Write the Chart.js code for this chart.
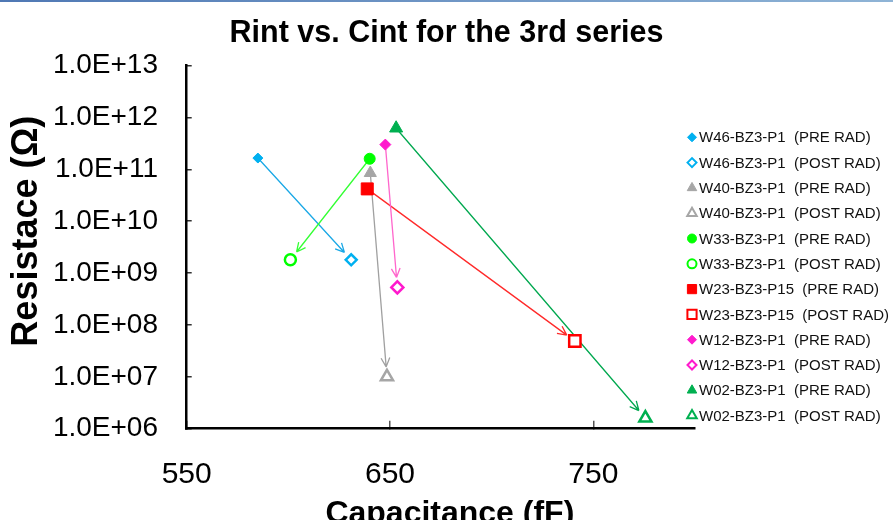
<!DOCTYPE html>
<html>
<head>
<meta charset="utf-8">
<title>Rint vs. Cint for the 3rd series</title>
<script src="https://cdn.jsdelivr.net/npm/chart.js"></script>
<style>
  body { margin: 0; background: #fff; }
  #wrap { position: relative; width: 893px; height: 520px; }
  #topline { position: absolute; left: 0; top: 0; width: 893px; height: 2px; background: linear-gradient(90deg, #4f78b4, #8fb4d6); }
</style>
</head>
<body>
<div id="wrap">
  <canvas id="grafico" width="893" height="520"></canvas>
  <div id="topline"></div>
</div>
<script>
// valores
const muestras = ['W46-BZ3-P1', 'W40-BZ3-P1', 'W33-BZ3-P1', 'W23-BZ3-P15', 'W12-BZ3-P1', 'W02-BZ3-P1'];
const capPre  = [585, 640.3, 640, 638.8, 647.7, 653];
const resPre  = [1.65e11, 8.5e10, 1.6e11, 4.2e10, 3.0e11, 6.2e11];
const capPost = [630.9, 648.5, 601, 740.9, 653.6, 775.6];
const resPost = [1.8e9, 1.0e7, 1.8e9, 4.9e7, 5.3e8, 1.6e6];
const xTicks = [550, 650, 750];
const yTicks = [1e6, 1e7, 1e8, 1e9, 1e10, 1e11, 1e12, 1e13];
const tituloX = 'Capacitance (fF)';
const tituloY = 'Resistace (Ω)';

// estilos
const colores = ['#00B0F0', '#A6A6A6', '#00FF00', '#FF0000', '#FF1ACD', '#00B050'];
const colorFlecha = ['#1AA8E6', '#A0A0A0', '#33FF33', '#FF2A2A', '#FF66CC', '#00A84F'];
const formas = ['rectRot', 'triangle', 'circle', 'rect', 'rectRot', 'triangle'];
const radioPre = [5, 7, 5.5, 8.5, 5.5, 7.5];
const radioPost = [5.5, 7, 5.5, 8, 6, 7];
const radioLeyenda = [4.5, 5.5, 4.5, 6.5, 4.5, 5.5];

const fuente = '"Liberation Sans", Arial, sans-serif';
Chart.defaults.color = '#000';
Chart.defaults.font.family = fuente;

const datasets = [];
muestras.forEach((m, i) => {
  datasets.push({
    label: m + '  (PRE RAD)',
    data: [{ x: capPre[i], y: resPre[i] }],
    pointStyle: formas[i],
    pointRadius: radioPre[i],
    backgroundColor: colores[i],
    borderColor: colores[i],
    borderWidth: 1
  });
  datasets.push({
    label: m + '  (POST RAD)',
    data: [{ x: capPost[i], y: resPost[i] }],
    pointStyle: formas[i],
    pointRadius: radioPost[i],
    backgroundColor: '#fff',
    borderColor: colores[i],
    borderWidth: 2.5
  });
});

const flechas = {
  id: 'flechas',
  beforeDatasetsDraw(chart) {
    const { ctx, scales: { x, y } } = chart;
    ctx.save();
    ctx.lineWidth = 1.3;
    muestras.forEach((m, i) => {
      const x1 = x.getPixelForValue(capPre[i]), y1 = y.getPixelForValue(resPre[i]);
      const x2 = x.getPixelForValue(capPost[i]), y2 = y.getPixelForValue(resPost[i]);
      const ang = Math.atan2(y2 - y1, x2 - x1);
      const tx = x2 - 10 * Math.cos(ang), ty = y2 - 10 * Math.sin(ang);
      ctx.strokeStyle = colorFlecha[i];
      ctx.beginPath();
      ctx.moveTo(x1, y1);
      ctx.lineTo(tx, ty);
      for (const s of [-1, 1]) {
        ctx.moveTo(tx, ty);
        ctx.lineTo(tx - 10 * Math.cos(ang + s * 0.45), ty - 10 * Math.sin(ang + s * 0.45));
      }
      ctx.stroke();
    });
    ctx.restore();
  }
};

// titulos de los ejes, un poco corridos respecto al centro del area
const titulosEje = {
  id: 'titulosEje',
  afterDraw(chart) {
    const { ctx, chartArea } = chart;
    ctx.save();
    ctx.fillStyle = '#000';
    ctx.textAlign = 'center';
    ctx.textBaseline = 'middle';
    ctx.font = 'bold 32px ' + fuente;
    ctx.fillText(tituloX, (chartArea.left + chartArea.right) / 2 + 9, 514);
    ctx.translate(27.5, (chartArea.top + chartArea.bottom) / 2 - 16);
    ctx.rotate(-Math.PI / 2);
    ctx.font = 'bold 36px ' + fuente;
    ctx.fillText(tituloY, 0, 0);
    ctx.restore();
  }
};

const leyenda = {
  id: 'leyenda',
  afterDraw(chart) {
    const ctx = chart.ctx;
    ctx.save();
    ctx.font = '15px ' + fuente;
    ctx.textBaseline = 'middle';
    chart.data.datasets.forEach((ds, i) => {
      const yy = 137.3 + i * 25.3;
      ctx.fillStyle = ds.backgroundColor;
      ctx.strokeStyle = ds.borderColor;
      ctx.lineWidth = ds.borderWidth > 1 ? 2 : 1;
      Chart.helpers.drawPoint(ctx, {
        pointStyle: ds.pointStyle,
        radius: radioLeyenda[Math.floor(i / 2)],
        borderWidth: ctx.lineWidth,
        rotation: 0
      }, 692, yy);
      ctx.fillStyle = '#111';
      ctx.fillText(ds.label, 699, yy + 1);
    });
    ctx.restore();
  }
};

function etiquetaE(v) {
  const e = Math.round(Math.log10(v));
  return '1.0E+' + String(e).padStart(2, '0');
}

new Chart(document.getElementById('grafico'), {
  type: 'scatter',
  data: { datasets },
  plugins: [flechas, titulosEje, leyenda],
  options: {
    responsive: false,
    animation: false,
    layout: { padding: 0 },
    plugins: {
      legend: { display: false },
      tooltip: { enabled: false },
      title: {
        display: true,
        text: 'Rint vs. Cint for the 3rd series',
        color: '#000',
        font: { size: 30.5, weight: 'bold' },
        padding: { top: 15, bottom: 14 }
      }
    },
    scales: {
      x: {
        type: 'linear',
        min: 550,
        max: 800,
        afterBuildTicks: s => { s.ticks = xTicks.map(v => ({ value: v })); },
        afterFit: s => { s.height = 91.3; },
        border: { color: '#000', width: 2.5 },
        grid: { drawOnChartArea: false, tickLength: -8, color: '#555', lineWidth: 1.5 },
        ticks: { padding: 36, color: '#000', font: { size: 30 }, callback: v => v },
        title: { display: false }
      },
      y: {
        type: 'logarithmic',
        min: 1e6,
        max: 1e13,
        afterBuildTicks: s => { s.ticks = yTicks.map(v => ({ value: v })); },
        afterFit: s => { s.width = 186.7; },
        border: { color: '#000', width: 2.5 },
        grid: { drawOnChartArea: false, tickLength: -5, color: '#333', lineWidth: 1.5 },
        ticks: { padding: 33.7, color: '#000', font: { size: 28 }, callback: etiquetaE },
        title: { display: false }
      },
      derecha: {
        position: 'right',
        display: true,
        ticks: { display: false },
        grid: { display: false },
        border: { display: false },
        afterFit: s => { s.width = 198; }
      }
    }
  }
});
</script>
</body>
</html>
